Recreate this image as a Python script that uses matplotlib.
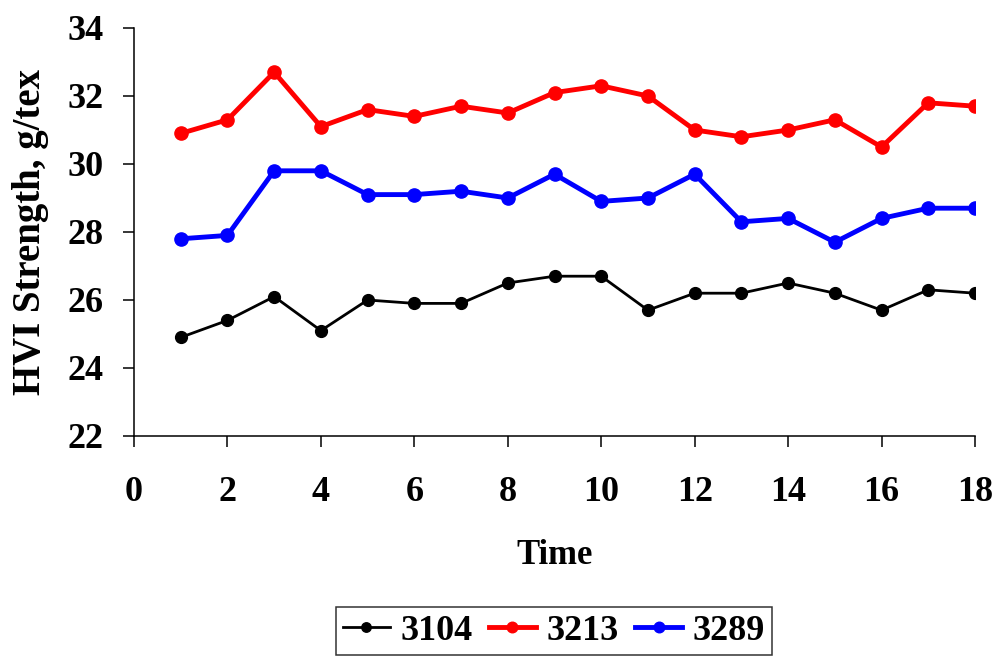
import numpy as np
import matplotlib.pyplot as plt

plt.rcParams['font.family'] = ['Liberation Serif', 'DejaVu Serif']
plt.rcParams['font.weight'] = 'bold'

# Datos
time = np.arange(1, 19)
s3104 = [24.9, 25.4, 26.1, 25.1, 26.0, 25.9, 25.9, 26.5, 26.7,
         26.7, 25.7, 26.2, 26.2, 26.5, 26.2, 25.7, 26.3, 26.2]
s3213 = [30.9, 31.3, 32.7, 31.1, 31.6, 31.4, 31.7, 31.5, 32.1,
         32.3, 32.0, 31.0, 30.8, 31.0, 31.3, 30.5, 31.8, 31.7]
s3289 = [27.8, 27.9, 29.8, 29.8, 29.1, 29.1, 29.2, 29.0, 29.7,
         28.9, 29.0, 29.7, 28.3, 28.4, 27.7, 28.4, 28.7, 28.7]
series_names = ['3104', '3213', '3289']
xticks = np.arange(0, 19, 2)
yticks = np.arange(22, 35, 2)

fig = plt.figure(figsize=(9.99, 6.59), dpi=100)
ax = fig.add_axes([134/999, 1 - 436/659, 841/999, 408/659])

ax.plot(time, s3104, color='black', lw=2, marker='o', ms=8.5, label=series_names[0])
ax.plot(time, s3213, color='#ff0000', lw=3.5, marker='o', ms=9.5, label=series_names[1])
ax.plot(time, s3289, color='#0000ff', lw=3.5, marker='o', ms=9.5, label=series_names[2])

ax.set_xlim(0, 18)
ax.set_ylim(22, 34)
ax.set_xticks(xticks)
ax.set_yticks(yticks)
ax.tick_params(direction='out', length=8, width=1.1, labelsize=26, pad=14)
ax.tick_params(axis='x', pad=21)
for lab in ax.get_xticklabels() + ax.get_yticklabels():
    lab.set_fontweight('bold')

ax.spines['top'].set_visible(False)
ax.spines['right'].set_visible(False)
ax.spines['left'].set_linewidth(1.1)
ax.spines['bottom'].set_linewidth(1.1)

ax.set_xlabel('Time', fontsize=25, fontweight='bold')
ax.set_ylabel('HVI Strength, g/tex', fontsize=28, fontweight='bold')
ax.xaxis.label.set_va('center')
ax.yaxis.label.set_va('center')
ax.xaxis.set_label_coords(0.5, (436 - 555) / 408)
ax.yaxis.set_label_coords((31 - 134) / 841, 0.5)

leg = fig.legend(loc='upper center', bbox_to_anchor=(554/999, 1 - 607/659), ncol=3,
                 fontsize=26, frameon=True, fancybox=False, edgecolor='black',
                 handlelength=1.3, handletextpad=0.3, columnspacing=0.45,
                 markerscale=0.8, borderpad=0.2, borderaxespad=0)
leg.get_frame().set_linewidth(1.1)

fig.savefig('out.png', dpi=100)
